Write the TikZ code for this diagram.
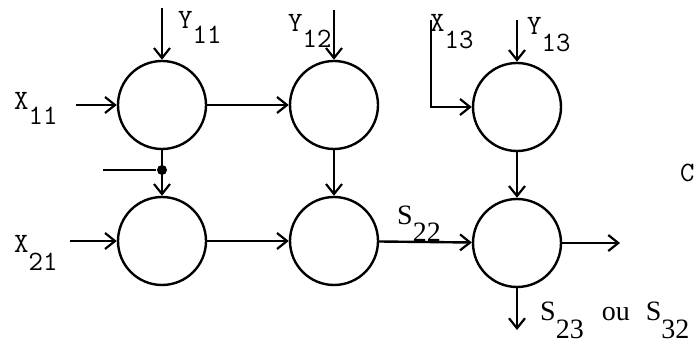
\documentclass[tikz,border=0pt]{standalone}
\usepackage{fontspec}
\newfontfamily\serf{Liberation Serif}
\usetikzlibrary{arrows.meta}
\begin{document}
\begin{tikzpicture}[x=0.5pt,y=-0.5pt, line width=1.2pt,
  nd/.style={circle,draw,line width=1.2pt,minimum size=44pt,inner sep=0pt},
  arr/.style={-{Straight Barb[length=5pt,width=8pt,line width=1.1pt]}},
  lbl/.style={font=\ttfamily\fontsize{14}{14}\selectfont, inner sep=0pt, anchor=base west},
  slbl/.style={font=\serf\fontsize{14}{14}\selectfont, inner sep=0pt, anchor=base west},
  junct/.style={circle,fill,inner sep=0pt,minimum size=5pt}]
\useasboundingbox (0,0) rectangle (695,347);
% operators
\node[nd] (a11) at (162,105) {};
\node[nd] (a12) at (334,105) {};
\node[nd] (a13) at (517,107) {};
\node[nd] (a21) at (162,241) {};
\node[nd] (a22) at (334,241) {};
\node[nd] (a23) at (517,243) {};
% free ends
\coordinate (y11) at (162,8);
\coordinate (x11) at (76,105);
\coordinate (y12) at (334,10);
\coordinate (x13) at (431,20);
\coordinate (y13) at (517,20);
\coordinate (x21) at (70,241);
\coordinate (w) at (103,170);
\coordinate (out) at (620,243);
\coordinate (sout) at (517,330);
\node[junct] (dot) at (162,170) {};
% connectors
\draw[arr] (y11) -- (a11);
\draw[arr] (x11) -- (a11);
\draw[arr] (a11) -- (a12);
\draw[arr] (y12) -- (a12);
\draw[arr] (x13) |- (a13.west);
\draw[arr] (y13) -- (a13);
\draw (w) -- (dot);
\draw[arr] (a11) -- (a21);
\draw[arr] (a12) -- (a22);
\draw[arr] (a13) -- (a23);
\draw[arr] (x21) -- (a21);
\draw[arr] (a21) -- (a22);
\draw[arr] (a22) -- (a23);
\draw[arr] (a23) -- (out);
\draw[arr] (a23) -- (sout);
% labels
\node[lbl] (lx11) at (13,110) {X\raisebox{-7.5pt}{11}};
\node[lbl] (ly11) at (177,29) {Y\raisebox{-7.5pt}{11}};
\node[lbl] (ly12) at (287,32) {Y\raisebox{-8pt}{12}};
\node[lbl] (lx13) at (429,32) {X\raisebox{-8.5pt}{13}};
\node[lbl] (ly13) at (526,35) {Y\raisebox{-8.5pt}{13}};
\node[lbl] (lx21) at (13,252) {X\raisebox{-9pt}{21}};
\node[slbl] (ls22) at (396,225) {S\raisebox{-8.5pt}{22}};
\node[slbl] (ls23) at (539,320) {S\raisebox{-9pt}{23}\hspace{9pt}ou\hspace{8pt}S\raisebox{-9pt}{32}};
\node[lbl] (lc) at (679,182) {C};
\end{tikzpicture}
\end{document}
